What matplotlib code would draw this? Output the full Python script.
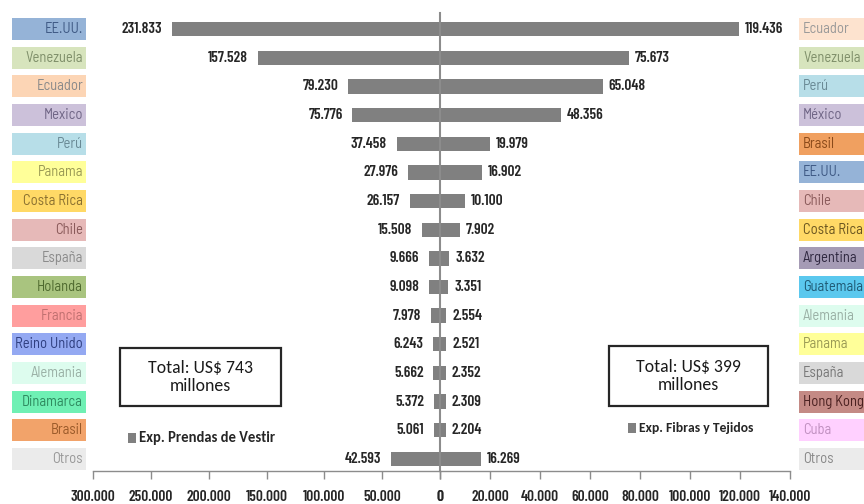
import matplotlib
matplotlib.use("Agg")
import matplotlib.pyplot as plt
from matplotlib.patches import Rectangle
from matplotlib.transforms import blended_transform_factory
from matplotlib.ticker import FuncFormatter

BASE = ['Carlito', 'DejaVu Sans']
COND = ['Barlow Condensed', 'Carlito', 'DejaVu Sans']
SEMI = ['Barlow Semi Condensed', 'Carlito', 'DejaVu Sans']
plt.rcParams['font.family'] = BASE

# ---- data ----
prendas_countries = ["EE.UU.", "Venezuela", "Ecuador", "Mexico", "Perú", "Panama", "Costa Rica", "Chile",
                     "España", "Holanda", "Francia", "Reino Unido", "Alemania", "Dinamarca", "Brasil", "Otros"]
prendas_values = [231833, 157528, 79230, 75776, 37458, 27976, 26157, 15508,
                  9666, 9098, 7978, 6243, 5662, 5372, 5061, 42593]
prendas_box_colors = ["#95B3D7", "#D7E4BD", "#FCD5B5", "#CCC1DA", "#B7DEE8", "#FFFF99", "#FFD966", "#E6B9B8",
                      "#D9D9D9", "#A9C47F", "#FF9E9E", "#94A9F2", "#DDFCEE", "#6FF0B4", "#F2A36A", "#EBEBEB"]
prendas_text_colors = ["#3F5A85", "#7F8F6A", "#8A8A8A", "#6F6585", "#6A8A95", "#9A9A55", "#8A7030", "#8A5A5A",
                       "#8A8A8A", "#4F6A2F", "#C07070", "#2F3F80", "#9AB0A5", "#2F8A5F", "#9A5A2A", "#999999"]

fibras_countries = ["Ecuador", "Venezuela", "Perú", "México", "Brasil", "EE.UU.", "Chile", "Costa Rica",
                    "Argentina", "Guatemala", "Alemania", "Panama", "España", "Hong Kong", "Cuba", "Otros"]
fibras_values = [119436, 75673, 65048, 48356, 19979, 16902, 10100, 7902,
                 3632, 3351, 2554, 2521, 2352, 2309, 2204, 16269]
fibras_box_colors = ["#FDE3CF", "#D7E4BD", "#B7DEE8", "#CCC1DA", "#F0A060", "#95B3D7", "#E6B9B8", "#FFD966",
                     "#A59BB5", "#5BC8EE", "#DDFCEE", "#FFFF99", "#D9D9D9", "#C48A85", "#FFD0FF", "#EBEBEB"]
fibras_text_colors = ["#999999", "#7F8F6A", "#6A8A95", "#6F6585", "#8A4A1A", "#3F5A85", "#8A5A5A", "#6A5520",
                      "#2F2840", "#1F5A75", "#9AB0A5", "#9A9A55", "#777777", "#4A2020", "#C090C0", "#888888"]

left_ticks = [300000, 250000, 200000, 150000, 100000, 50000, 0]
right_ticks = [0, 20000, 40000, 60000, 80000, 100000, 120000, 140000]

total_left = "Total: US$ 743\nmillones"
total_right = "Total: US$ 399\nmillones"
legend_left = "Exp. Prendas de Vestir"
legend_right = "Exp. Fibras y Tejidos"


def fmt(v):
    return f"{int(round(v)):,}".replace(",", ".")


W, H = 864, 504
fig = plt.figure(figsize=(W / 100, H / 100), dpi=100)
fig.patch.set_facecolor("white")

ax_bottom = 1 - 471 / H
ax_top = 1 - 13 / H
axL = fig.add_axes([93 / W, ax_bottom, 347 / W, ax_top - ax_bottom])
axR = fig.add_axes([440 / W, ax_bottom, 350 / W, ax_top - ax_bottom])

n = len(prendas_values)
ypos = list(range(n))
bar_color = "#808080"
axis_color = "#8C8C8C"
text_dark = "#262626"

axL.barh(ypos, prendas_values, height=0.5, color=bar_color)
axR.barh(ypos, fibras_values, height=0.5, color=bar_color)

axL.set_xlim(300000, 0)
axR.set_xlim(0, 140000)
axL.set_xticks(left_ticks)
axR.set_xticks(right_ticks)
for ax in (axL, axR):
    ax.set_ylim(n - 0.58, -0.56)
    ax.set_yticks([])
    ax.patch.set_alpha(0)
    for s in ("top", "left", "right"):
        ax.spines[s].set_visible(False)
    ax.spines["bottom"].set_color(axis_color)
    ax.spines["bottom"].set_linewidth(1.0)
    ax.tick_params(axis="x", direction="out", length=6, width=1, color=axis_color, pad=8)
    ax.xaxis.set_major_formatter(FuncFormatter(lambda v, p: fmt(v)))
    for lab in ax.get_xticklabels():
        lab.set_fontweight("semibold")
        lab.set_color(text_dark)
        lab.set_family(COND)
        lab.set_fontsize(11)

axR.spines["left"].set_visible(True)
axR.spines["left"].set_color(axis_color)
axR.spines["left"].set_linewidth(1.5)

# value labels
for i, v in enumerate(prendas_values):
    axL.annotate(fmt(v), (v, i), xytext=(-7, 0), textcoords="offset points",
                 ha="right", va="center", fontsize=11, fontweight="semibold", color=text_dark,
                 family=COND)
for i, v in enumerate(fibras_values):
    axR.annotate(fmt(v), (v, i), xytext=(4.3, 0), textcoords="offset points",
                 ha="left", va="center", fontsize=11, fontweight="semibold", color=text_dark,
                 family=COND)

# country boxes
trL = blended_transform_factory(fig.transFigure, axL.transData)
for i, (c, bc, tc) in enumerate(zip(prendas_countries, prendas_box_colors, prendas_text_colors)):
    fig.add_artist(Rectangle((12 / W, i - 0.38), 74 / W, 0.76, transform=trL,
                             facecolor=bc, edgecolor="none"))
    fig.text(83 / W, i, c, transform=trL, ha="right", va="center", fontsize=10.5, color=tc,
             family=SEMI)

trR = blended_transform_factory(fig.transFigure, axR.transData)
for i, (c, bc, tc) in enumerate(zip(fibras_countries, fibras_box_colors, fibras_text_colors)):
    fig.add_artist(Rectangle((799 / W, i - 0.38), 66 / W, 0.76, transform=trR,
                             facecolor=bc, edgecolor="none"))
    fig.text(803 / W, i, c, transform=trR, ha="left", va="center", fontsize=10.5, color=tc,
             family=SEMI)

# total boxes
for (x0, y0, x1, y1, txt) in [(120, 348, 281, 406, total_left), (609, 346, 768, 406, total_right)]:
    fig.add_artist(Rectangle((x0 / W, 1 - y1 / H), (x1 - x0) / W, (y1 - y0) / H,
                             transform=fig.transFigure, facecolor="white",
                             edgecolor=text_dark, linewidth=1.6))
    fig.text((x0 + x1) / 2 / W, 1 - (y0 + y1) / 2 / H, txt, ha="center", va="center",
             fontsize=12.8, color="#1A1A1A", linespacing=1.2)

# legends
for (x, y, txt, fs) in [(128, 438, legend_left, 10.5), (628, 428, legend_right, 9.8)]:
    fig.add_artist(Rectangle((x / W, 1 - (y + 5) / H), 8 / W, 10 / H,
                             transform=fig.transFigure, facecolor=bar_color, edgecolor="none"))
    fig.text((x + 11) / W, 1 - y / H, txt, ha="left", va="center", fontsize=fs,
             fontweight="bold", color=text_dark)

fig.savefig("out.png", dpi=100, facecolor="white")
